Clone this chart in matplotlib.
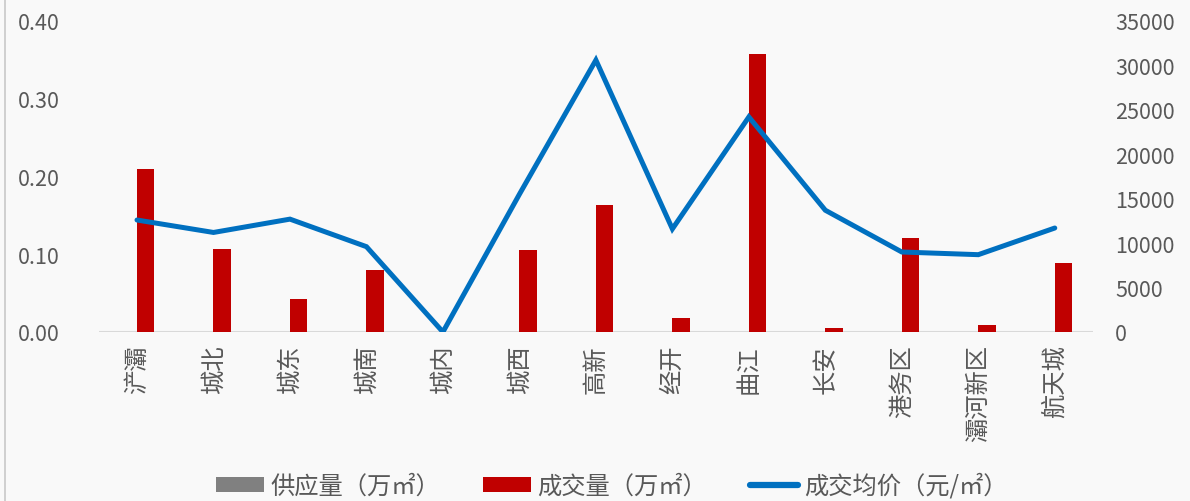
import numpy as np
import matplotlib.pyplot as plt
from matplotlib.patches import Patch
from matplotlib.lines import Line2D

plt.rcParams['font.family'] = ['Noto Sans CJK SC', 'DejaVu Sans']

# Data
districts = ["浐灞", "城北", "城东", "城南", "城内", "城西", "高新",
             "经开", "曲江", "长安", "港务区", "灞河新区", "航天城"]
supply = [0, 0, 0, 0, 0, 0, 0, 0, 0, 0, 0, 0, 0]
deals = [0.209, 0.107, 0.042, 0.080, 0.0, 0.105, 0.163,
         0.018, 0.358, 0.005, 0.121, 0.009, 0.089]
avg_price = [12600, 11200, 12700, 9600, 0, 15500, 30600,
             11600, 24200, 13700, 9000, 8700, 11700]

left_ticks = [0.0, 0.1, 0.2, 0.3, 0.4]
right_ticks = [0, 5000, 10000, 15000, 20000, 25000, 30000, 35000]

bg = "#F9F9F9"
txt = "#595959"

fig = plt.figure(figsize=(11.9, 5.02), dpi=100, facecolor=bg)
ax = fig.add_axes([0.083, 0.3367, 0.8355, 0.6195], facecolor=bg)
ax2 = ax.twinx()

x = np.arange(len(districts))
w = 0.225
ax.bar(x - w / 2, supply, width=w, color="#808080", zorder=2)
ax.bar(x + w / 2, deals, width=w, color="#C00000", zorder=2)
ax2.plot(x, avg_price, color="#0070C0", lw=3.6, solid_joinstyle="miter",
         solid_capstyle="round", zorder=3)

ax.set_xlim(-0.5, len(districts) - 0.5)
ax.set_ylim(0, 0.4)
ax.set_yticks(left_ticks)
ax.set_yticklabels([f"{v:.2f}" for v in left_ticks])
ax2.set_ylim(0, 35000)
ax2.set_yticks(right_ticks)
ax2.set_yticklabels([str(v) for v in right_ticks])

ax.set_xticks(x)
ax.set_xticklabels(districts, rotation=90, fontsize=17.5, color=txt)
ax.tick_params(axis="x", length=0, pad=9)
ax.tick_params(axis="y", length=0, labelsize=15.5, labelcolor=txt, pad=28)
ax2.tick_params(axis="y", length=0, labelsize=15.5, labelcolor=txt, pad=16)

for a in (ax, ax2):
    for s in a.spines.values():
        s.set_visible(False)
ax.axhline(0, color="#D9D9D9", lw=1.5, zorder=1)

# left border line of the chart area
fig.add_artist(Line2D([5 / 1190, 5 / 1190], [0, 1], color="#C8C8C8", lw=1.2))

handles = [
    Patch(facecolor="#808080", edgecolor="none"),
    Patch(facecolor="#C00000", edgecolor="none"),
    Line2D([0], [0], color="#0070C0", lw=4.5, solid_capstyle="round"),
]
labels = ["供应量（万㎡）", "成交量（万㎡）", "成交均价（元/㎡）"]
fig.legend(handles, labels, loc="center", bbox_to_anchor=(0.514, 0.03),
           ncol=3, frameon=False, fontsize=17.5, labelcolor=txt,
           handlelength=2.0, handleheight=0.6, handletextpad=0.25,
           columnspacing=1.75)

fig.savefig("out.png", dpi=100, facecolor=bg)
